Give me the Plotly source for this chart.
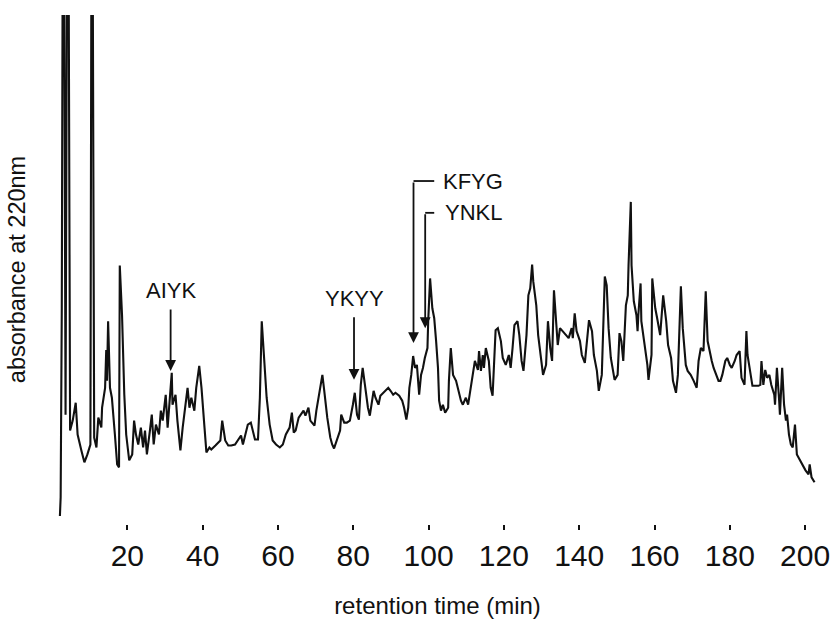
import plotly.graph_objects as go

# ---------------- data ----------------
retention_time = [
    2.1, 2.3, 2.6, 3.0, 3.6, 4.2, 4.8, 5.5, 6.3, 6.8, 7.8, 8.6, 9.4, 10.2, 10.6, 11.2, 11.8, 12.3,
    13.1, 13.3, 14.1, 14.4, 14.6, 14.9, 15.4, 15.9, 16.7, 17.3, 17.8, 18.0, 18.6, 19.2, 19.7, 20.5,
    21.3, 21.8, 22.3, 22.9, 23.6, 24.2, 24.7, 25.2, 26.0, 26.5, 27.0, 27.6, 28.4, 28.9, 29.4, 30.2,
    30.7, 31.2, 31.8, 32.0, 32.8, 33.3, 34.1, 34.7, 35.4, 36.0, 36.5, 37.0, 37.8, 38.3, 39.1, 39.7,
    40.5, 41.0, 41.8, 42.3, 43.4, 44.2, 44.7, 45.2, 46.0, 46.8, 47.6, 48.6, 49.4, 50.2, 50.7, 51.3,
    52.0, 52.8, 53.3, 53.9, 54.7, 55.2, 55.7, 56.5, 57.0, 57.8, 58.6, 59.5, 60.5, 61.3, 62.1, 63.1,
    63.7, 64.2, 64.7, 65.5, 66.0, 66.8, 67.3, 68.1, 68.6, 69.7, 70.2, 71.0, 71.8, 72.3, 73.1, 73.9,
    74.4, 74.9, 75.7, 76.5, 76.8, 77.6, 78.3, 79.1, 79.9, 80.4, 81.0, 81.5, 82.0, 82.5, 83.1, 83.9,
    84.4, 84.9, 85.4, 85.9, 86.7, 87.2, 88.0, 88.6, 89.3, 89.9, 90.6, 91.2, 92.2, 93.0, 93.5, 94.1,
    94.6, 94.9, 95.4, 95.9, 96.4, 96.9, 97.5, 98.0, 98.5, 99.0, 99.7, 99.9, 100.4, 101.0, 101.5, 102.0,
    102.5, 102.8, 103.3, 103.8, 104.4, 105.2, 105.4, 105.9, 106.5, 107.3, 108.0, 108.6, 109.1, 109.9,
    110.5, 111.3, 111.8, 112.3, 113.1, 113.4, 113.9, 114.4, 114.7, 115.2, 116.0, 116.5, 117.0, 117.8,
    118.4, 119.2, 119.7, 120.5, 121.3, 121.8, 122.3, 122.8, 123.6, 124.1, 124.7, 125.2, 126.0, 126.5,
    127.0, 127.5, 127.8, 128.6, 129.1, 129.9, 130.4, 131.2, 131.7, 132.3, 132.8, 133.3, 133.8, 134.3,
    134.9, 135.6, 136.7, 137.2, 138.0, 138.3, 138.8, 139.3, 140.2, 140.7, 141.5, 142.0, 142.6, 143.4,
    143.9, 144.7, 145.2, 146.0, 146.3, 146.8, 147.3, 147.8, 148.4, 148.9, 149.4, 150.2, 150.7, 151.2,
    151.7, 152.4, 152.9, 153.1, 153.7, 153.9, 154.5, 155.2, 155.5, 155.7, 156.3, 156.5, 157.3, 158.1,
    158.4, 159.2, 159.4, 160.2, 160.7, 161.5, 162.3, 163.1, 163.6, 164.4, 164.9, 165.7, 166.2, 166.7,
    167.0, 167.5, 168.3, 168.8, 169.6, 170.4, 171.2, 171.7, 172.3, 173.0, 173.6, 174.1, 174.6, 175.2,
    175.7, 176.5, 177.0, 177.5, 178.0, 178.8, 179.3, 180.0, 180.5, 181.3, 181.8, 182.6, 183.1, 183.9,
    184.4, 184.7, 185.5, 186.0, 187.0, 187.6, 188.1, 188.4, 188.9, 189.4, 189.9, 190.5, 191.0, 191.8,
    192.0, 192.5, 193.1, 193.3, 193.9, 194.4, 194.9, 195.2, 195.7, 196.2, 196.7, 197.3, 197.8, 198.6,
    199.4, 200.1, 200.9, 201.2, 201.7, 202.5,
]

absorbance = [
    1, 20, 210, 820, 103, 820, 87, 97, 115, 83, 67, 55, 63, 73, 820, 80, 70, 100,
    90, 110, 130, 168, 137, 197, 130, 120, 83, 53, 50, 253, 203, 123, 83, 57,
    63, 97, 83, 73, 90, 70, 87, 63, 87, 103, 73, 93, 83, 107, 97, 123,
    90, 120, 145, 113, 123, 97, 67, 90, 113, 130, 110, 120, 107, 130, 152, 130,
    90, 65, 70, 68, 72, 75, 77, 97, 77, 72, 72, 73, 77, 82, 73, 83,
    93, 95, 88, 78, 78, 120, 197, 153, 120, 93, 77, 73, 70, 73, 83, 90,
    105, 85, 87, 100, 103, 107, 102, 110, 97, 92, 107, 123, 143, 127, 100, 80,
    73, 69, 77, 87, 103, 95, 95, 97, 113, 125, 103, 98, 133, 150, 133, 110,
    102, 113, 127, 120, 113, 122, 125, 128, 130, 127, 123, 125, 122, 117, 110, 98,
    110, 130, 143, 162, 150, 153, 123, 143, 150, 160, 170, 197, 240, 210, 200, 177,
    150, 117, 107, 113, 105, 110, 137, 170, 143, 137, 127, 117, 113, 120,
    113, 133, 143, 157, 148, 167, 147, 163, 150, 170, 157, 130, 122, 188,
    190, 177, 160, 153, 163, 150, 170, 193, 197, 183, 157, 147, 183, 223,
    230, 254, 237, 213, 183, 157, 143, 153, 197, 170, 157, 228, 200, 173,
    190, 187, 183, 180, 190, 180, 205, 187, 177, 163, 155, 177, 198, 187,
    163, 147, 127, 143, 173, 242, 233, 190, 160, 147, 138, 143, 185, 177,
    157, 213, 223, 253, 317, 253, 217, 203, 187, 203, 235, 197, 177, 153,
    138, 163, 240, 210, 200, 183, 223, 197, 173, 160, 137, 125, 143, 197,
    232, 190, 153, 147, 143, 137, 130, 157, 170, 167, 227, 177, 167, 157,
    150, 143, 137, 137, 143, 157, 160, 153, 150, 157, 163, 167, 140, 133,
    187, 163, 143, 132, 132, 132, 133, 157, 133, 148, 140, 143, 133, 123,
    113, 150, 117, 103, 150, 113, 97, 103, 83, 73, 70, 93, 63, 57,
    52, 47, 43, 53, 40, 35,
]

tick_values = [20, 40, 60, 80, 100, 120, 140, 160, 180, 200]
tick_labels = ["20", "40", "60", "80", "100", "120", "140", "160", "180", "200"]

peptide_names = ["AIYK", "YKYY", "KFYG", "YNKL"]
peptide_times = [31.5, 80.2, 96.0, 99.1]        # retention time marked by each arrow
peptide_heights = [147, 138, 175, 190]          # absorbance at the arrow tip

x_title = "retention time (min)"
y_title = "absorbance at 220nm"

# ---------------- figure ----------------
FONT = "Liberation Sans, Arial, Helvetica, sans-serif"
INK = "#111111"

fig = go.Figure()
fig.add_trace(go.Scatter(
    x=retention_time, y=absorbance, mode="lines",
    line=dict(color=INK, width=2.1), hoverinfo="skip", showlegend=False,
))

# straight arrows (label directly above)
straight_text_level = {"AIYK": 228, "YKYY": 220}
for name, t, h in zip(peptide_names, peptide_times, peptide_heights):
    if name in straight_text_level:
        fig.add_annotation(
            x=t, y=h, xref="x", yref="y", text=name,
            ax=t, ay=straight_text_level[name], axref="x", ayref="y",
            showarrow=True, arrowhead=2, arrowsize=1.2, arrowwidth=1.8,
            arrowcolor=INK, startstandoff=5,
            font=dict(family=FONT, size=22, color=INK),
        )

# elbow leaders (label to the right, bracket going down)
elbow = {"KFYG": (338, 101.5, 103.3), "YNKL": (306, 101.5, 103.9)}
for name, t, h in zip(peptide_names, peptide_times, peptide_heights):
    if name in elbow:
        level, x_end, x_text = elbow[name]
        fig.add_shape(type="line", xref="x", yref="y", x0=t, x1=x_end,
                      y0=level, y1=level, line=dict(color=INK, width=1.8))
        fig.add_annotation(
            x=t, y=h, xref="x", yref="y", text="",
            ax=t, ay=level, axref="x", ayref="y",
            showarrow=True, arrowhead=2, arrowsize=1.2, arrowwidth=1.8,
            arrowcolor=INK,
        )
        fig.add_annotation(
            x=x_text, y=level, xref="x", yref="y", text=name, showarrow=False,
            xanchor="left", yanchor="middle",
            font=dict(family=FONT, size=22, color=INK),
        )

fig.update_layout(
    width=838, height=623,
    margin=dict(l=52, r=8, t=15, b=96),
    paper_bgcolor="white", plot_bgcolor="white",
    font=dict(family=FONT, color=INK),
    showlegend=False,
    xaxis=dict(
        range=[0, 204.74], tickmode="array", tickvals=tick_values, ticktext=tick_labels,
        ticks="outside", ticklen=5, tickwidth=2, tickcolor=INK,
        showgrid=False, zeroline=False, showline=False,
        tickfont=dict(family=FONT, size=30, color=INK),
        title=dict(text=x_title, font=dict(family=FONT, size=24, color=INK), standoff=26),
    ),
    yaxis=dict(
        range=[-7, 505], showticklabels=False, ticks="",
        showgrid=False, zeroline=False, showline=False,
        title=dict(text=y_title, font=dict(family=FONT, size=23.5, color=INK), standoff=18),
    ),
)

fig.write_html(
    "out.html",
    config={"displayModeBar": False},
    post_script="document.body.style.margin='0';document.body.style.padding='0';"
                "document.body.style.overflow='hidden';",
)
